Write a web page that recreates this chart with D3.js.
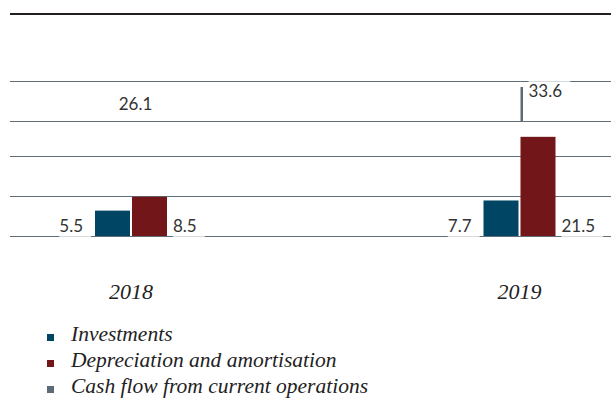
<!DOCTYPE html>
<html>
<head>
<meta charset="utf-8">
<script src="https://cdn.jsdelivr.net/npm/d3@7"></script>
<style>
    body { margin: 0; background: #fff; }
    svg { display: block; }
</style>
</head>
<body>
<div id="chart"></div>
<script>
// chart data
var years = ["2018", "2019"];
var investments = [5.5, 7.7];
var depreciation = [8.5, 21.5];
var cashFlow = [26.1, 33.6];
var seriesNames = ["Investments", "Depreciation and amortisation", "Cash flow from current operations"];
var gridValues = [0, 8.7, 17.3, 24.9, 33.6];

var colors = ["#004563", "#731619", "#5d6b77"];

var width = 611, height = 398;

var svg = d3.select("#chart").append("svg")
    .attr("width", width)
    .attr("height", height);

var x = d3.scalePoint().domain(years).range([131, 519.5]);
var y = d3.scaleLinear().domain([0, 33.6]).range([236, 81]);

var barW = 35, gap = 2;

// top rule
svg.append("line")
    .attr("x1", 10).attr("x2", width)
    .attr("y1", 14).attr("y2", 14)
    .attr("stroke", "#231f20")
    .attr("stroke-width", 2);

// gridlines
svg.selectAll("line.grid")
    .data(gridValues)
    .enter()
    .append("line")
    .attr("class", "grid")
    .attr("x1", 10).attr("x2", width)
    .attr("y1", function (d) { return Math.round(y(d)) + 0.5; })
    .attr("y2", function (d) { return Math.round(y(d)) + 0.5; })
    .attr("stroke", "#5f6e79")
    .attr("stroke-width", 1.2);

// investments bars
svg.selectAll("rect.inv")
    .data(investments)
    .enter()
    .append("rect")
    .attr("class", "inv")
    .attr("x", function (d, i) { return x(years[i]) - gap / 2 - barW; })
    .attr("y", function (d) { return y(d); })
    .attr("width", barW)
    .attr("height", function (d) { return y(0) - y(d); })
    .attr("fill", colors[0]);

// depreciation bars
svg.selectAll("rect.dep")
    .data(depreciation)
    .enter()
    .append("rect")
    .attr("class", "dep")
    .attr("x", function (d, i) { return x(years[i]) + gap / 2; })
    .attr("y", function (d) { return y(d); })
    .attr("width", barW)
    .attr("height", function (d) { return y(0) - y(d); })
    .attr("fill", colors[1]);

// cash flow: only a thin sliver shows, down to the gridline below the value
function gridBelow(v) {
    var below = gridValues.filter(function (g) { return g < v; });
    return d3.max(below);
}
function sliverTop(v) { return y(v) + 6; }
function sliverLen(v) { return y(gridBelow(v)) - sliverTop(v); }

svg.selectAll("rect.cf")
    .data(cashFlow)
    .enter()
    .append("rect")
    .attr("class", "cf")
    .attr("x", function (d, i) { return x(years[i]) + gap / 2; })
    .attr("y", function (d) { return sliverTop(d); })
    .attr("width", 2.5)
    .attr("height", function (d) { return Math.max(0, sliverLen(d)); })
    .attr("fill", colors[2]);

// value labels
var labelFont = "Lato, 'Open Sans', sans-serif";
var labels = [];
investments.forEach(function (v, i) {
    labels.push({ text: v.toFixed(1), x: x(years[i]) - gap / 2 - barW - 12, y: 232, anchor: "end" });
});
depreciation.forEach(function (v, i) {
    labels.push({ text: v.toFixed(1), x: x(years[i]) + gap / 2 + barW + 6, y: 232, anchor: "start" });
});
cashFlow.forEach(function (v, i) {
    if (sliverLen(v) > 0) {
        labels.push({ text: v.toFixed(1), x: x(years[i]) + gap / 2 + 8, y: y(v) + 16, anchor: "start" });
    } else {
        labels.push({ text: v.toFixed(1), x: x(years[i]) + 4.5, y: y(v) - 6, anchor: "middle" });
    }
});

var lg = svg.selectAll("g.vlabel")
    .data(labels)
    .enter()
    .append("g")
    .attr("class", "vlabel");

lg.append("rect").attr("fill", "#fff").attr("opacity", 0.75);

lg.append("text")
    .attr("x", function (d) { return d.x; })
    .attr("y", function (d) { return d.y; })
    .attr("text-anchor", function (d) { return d.anchor; })
    .attr("font-family", labelFont)
    .attr("font-size", 17)
    .attr("fill", "#333")
    .text(function (d) { return d.text; });

lg.each(function () {
    var g = d3.select(this);
    var bb = g.select("text").node().getBBox();
    g.select("rect")
        .attr("x", bb.x)
        .attr("y", bb.y)
        .attr("width", bb.width + 8)
        .attr("height", bb.height + 2);
});

// category labels
svg.selectAll("text.year")
    .data(years)
    .enter()
    .append("text")
    .attr("class", "year")
    .attr("x", function (d) { return x(d); })
    .attr("y", 299)
    .attr("text-anchor", "middle")
    .attr("font-family", "'Liberation Serif', serif")
    .attr("font-style", "italic")
    .attr("font-size", 22)
    .attr("fill", "#222")
    .text(function (d) { return d; });

// legend
var legend = svg.selectAll("g.legend")
    .data(seriesNames)
    .enter()
    .append("g")
    .attr("class", "legend")
    .attr("transform", function (d, i) { return "translate(47," + (341 + i * 26) + ")"; });

legend.append("rect")
    .attr("x", 0)
    .attr("y", -7)
    .attr("width", 7)
    .attr("height", 7)
    .attr("fill", function (d, i) { return colors[i]; });

legend.append("text")
    .attr("x", 24)
    .attr("y", 0)
    .attr("font-family", "'Liberation Serif', serif")
    .attr("font-style", "italic")
    .attr("font-size", 21.5)
    .attr("fill", "#222")
    .text(function (d) { return d; });
</script>
</body>
</html>
